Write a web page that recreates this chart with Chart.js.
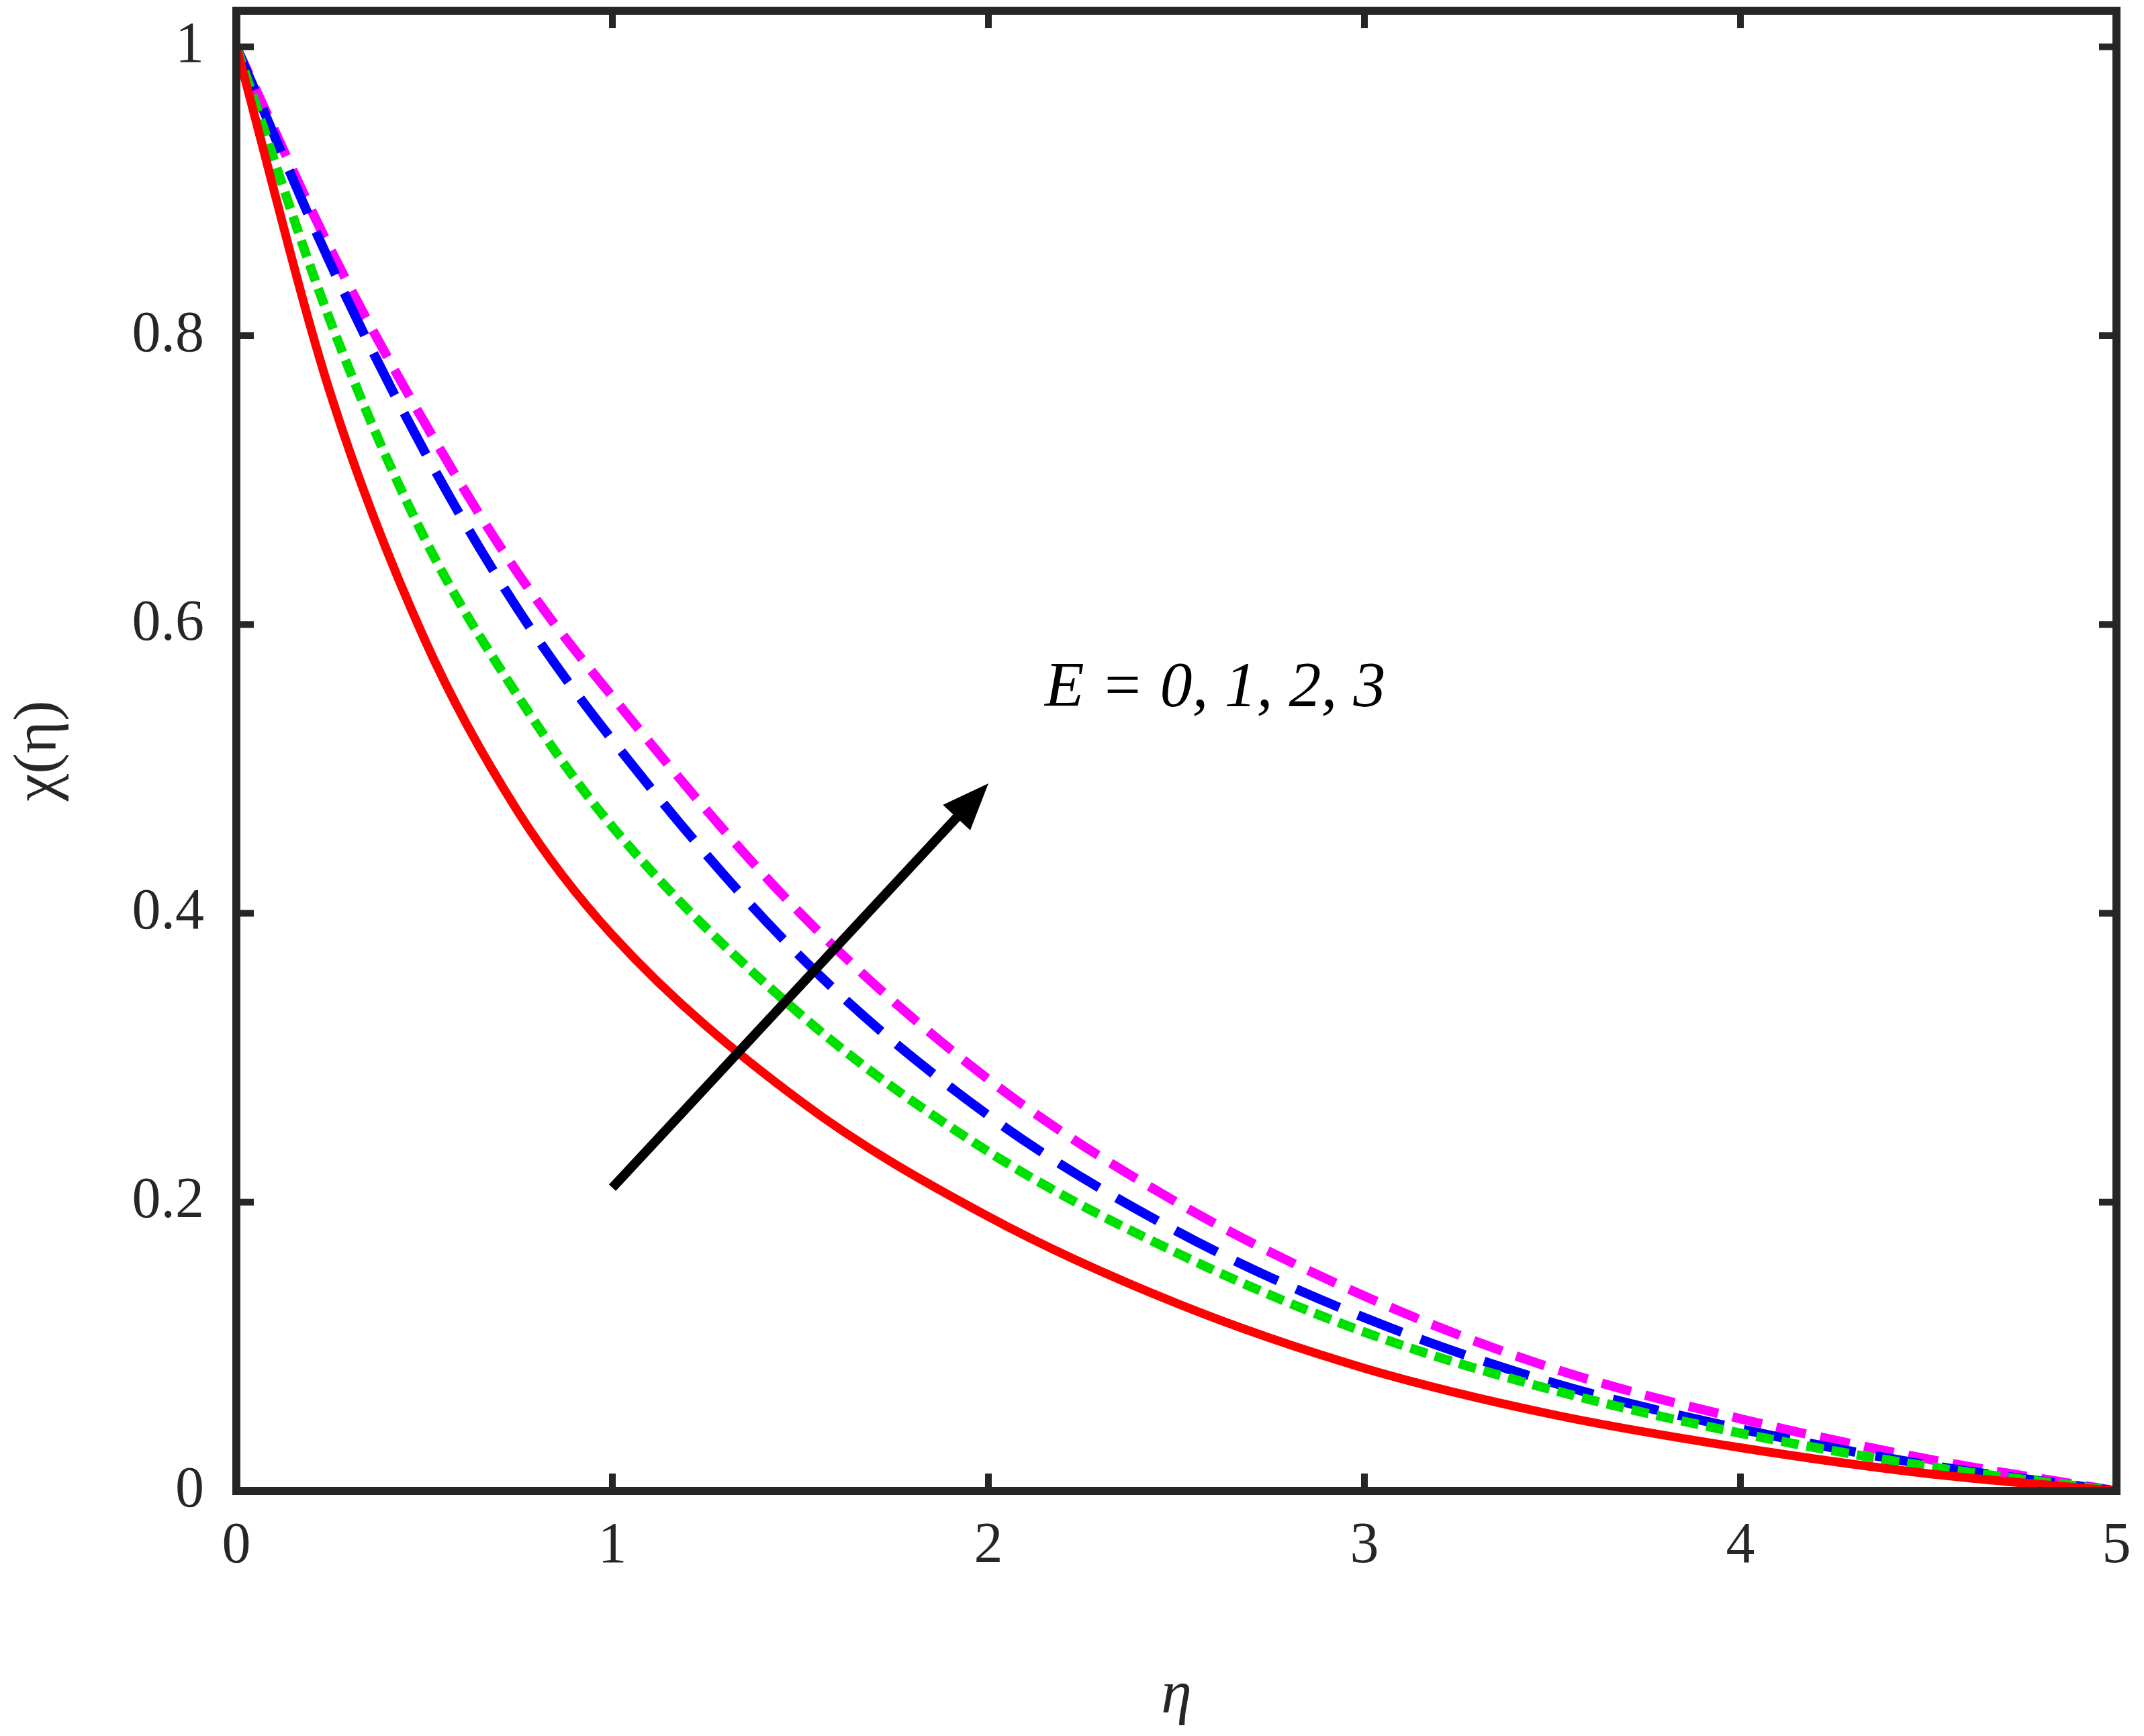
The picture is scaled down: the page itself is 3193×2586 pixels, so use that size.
<!DOCTYPE html>
<html>
<head>
<meta charset="UTF-8">
<style>
  html, body { margin: 0; padding: 0; background: #fff; }
  #wrap { width: 3193px; height: 2586px; }
</style>
</head>
<body>
<div id="wrap"><canvas id="chart"></canvas></div>
<script src="https://cdn.jsdelivr.net/npm/chart.js"></script>
<script>
  const etaValues = [0, 0.25, 0.5, 0.75, 1, 1.5, 2, 2.5, 3, 3.5, 4, 4.5, 5];
  const chiE0 = [1, 0.76, 0.59, 0.47, 0.385, 0.27, 0.19, 0.13, 0.085, 0.053, 0.03, 0.012, 0];
  const chiE1 = [1, 0.81, 0.66, 0.55, 0.46, 0.33, 0.235, 0.165, 0.11, 0.07, 0.04, 0.017, 0];
  const chiE2 = [1, 0.85, 0.72, 0.61, 0.52, 0.37, 0.26, 0.18, 0.12, 0.075, 0.043, 0.018, 0];
  const chiE3 = [1, 0.86, 0.74, 0.635, 0.55, 0.40, 0.285, 0.20, 0.135, 0.085, 0.05, 0.022, 0];
  const xTicks = [0, 1, 2, 3, 4, 5];
  const yTicks = [0, 0.2, 0.4, 0.6, 0.8, 1];
  const arrowFrom = [1, 0.21];
  const arrowTo = [2, 0.49];
  const note = 'E = 0, 1, 2, 3';
  const notePos = [2.15, 0.555];
  const serif = "'Liberation Serif', 'Times New Roman', serif";

  const pts = ys => etaValues.map((x, i) => ({ x: x, y: ys[i] }));

  // frame on all four sides, ticks pointing inward, arrow head and label
  const frame = {
    id: 'frame',
    afterDatasetsDraw(chart) {
      const { ctx, chartArea: a, scales: { x, y } } = chart;
      ctx.save();
      ctx.strokeStyle = '#262626';
      ctx.lineWidth = 12;
      ctx.strokeRect(a.left, a.top, a.right - a.left, a.bottom - a.top);
      ctx.lineWidth = 10;
      const t = 26;
      xTicks.forEach(v => {
        const px = x.getPixelForValue(v);
        ctx.beginPath();
        ctx.moveTo(px, a.bottom); ctx.lineTo(px, a.bottom - t);
        ctx.moveTo(px, a.top); ctx.lineTo(px, a.top + t);
        ctx.stroke();
      });
      yTicks.forEach(v => {
        const py = y.getPixelForValue(v);
        ctx.beginPath();
        ctx.moveTo(a.left, py); ctx.lineTo(a.left + t, py);
        ctx.moveTo(a.right, py); ctx.lineTo(a.right - t, py);
        ctx.stroke();
      });
      // arrow
      const x1 = x.getPixelForValue(arrowFrom[0]), y1 = y.getPixelForValue(arrowFrom[1]);
      const x2 = x.getPixelForValue(arrowTo[0]), y2 = y.getPixelForValue(arrowTo[1]);
      const ang = Math.atan2(y2 - y1, x2 - x1);
      ctx.strokeStyle = '#000';
      ctx.fillStyle = '#000';
      ctx.lineWidth = 14;
      ctx.beginPath();
      ctx.moveTo(x1, y1);
      ctx.lineTo(x2 - 40 * Math.cos(ang), y2 - 40 * Math.sin(ang));
      ctx.stroke();
      ctx.beginPath();
      ctx.moveTo(x2, y2);
      ctx.lineTo(x2 - 75 * Math.cos(ang - 0.38), y2 - 75 * Math.sin(ang - 0.38));
      ctx.lineTo(x2 - 75 * Math.cos(ang + 0.38), y2 - 75 * Math.sin(ang + 0.38));
      ctx.closePath();
      ctx.fill();
      ctx.font = "italic 96px " + serif;
      ctx.textAlign = 'left';
      ctx.textBaseline = 'middle';
      ctx.fillText(note, x.getPixelForValue(notePos[0]), y.getPixelForValue(notePos[1]));
      ctx.restore();
    }
  };

  const ctx = document.getElementById('chart').getContext('2d');
  new Chart(ctx, {
    type: 'line',
    data: {
      datasets: [
        { label: 'E = 0', data: pts(chiE0), borderColor: '#ff0000', borderWidth: 13 },
        { label: 'E = 1', data: pts(chiE1), borderColor: '#00e000', borderWidth: 14, borderDash: [26, 12] },
        { label: 'E = 2', data: pts(chiE2), borderColor: '#0000ff', borderWidth: 14, borderDash: [70, 30] },
        { label: 'E = 3', data: pts(chiE3), borderColor: '#ff00ff', borderWidth: 14, borderDash: [45, 22] }
      ]
    },
    options: {
      responsive: true,
      maintainAspectRatio: false,
      animation: false,
      devicePixelRatio: 1,
      elements: { point: { radius: 0 }, line: { tension: 0.4, cubicInterpolationMode: 'monotone' } },
      layout: { padding: { top: 16, right: 41 } },
      plugins: { legend: { display: false }, tooltip: { enabled: false } },
      scales: {
        x: {
          type: 'linear', min: 0, max: 5,
          afterFit: s => { s.height = 365; s.paddingRight = 0; },
          afterBuildTicks: s => { s.ticks = xTicks.map(v => ({ value: v })); },
          grid: { display: false },
          border: { display: false },
          ticks: { color: '#262626', padding: 24, font: { family: serif, size: 86 } },
          title: { display: true, text: 'η', color: '#262626', padding: { top: 0 }, font: { family: serif, size: 92, style: 'italic' } }
        },
        y: {
          type: 'linear', min: 0, max: 1.025,
          afterFit: s => { s.width = 352; s.paddingTop = 0; s.paddingBottom = 0; },
          afterBuildTicks: s => { s.ticks = yTicks.map(v => ({ value: v })); },
          grid: { display: false },
          border: { display: false },
          ticks: { color: '#262626', padding: 40, font: { family: serif, size: 86 }, callback: v => String(v) },
          title: { display: true, text: 'χ(η)', color: '#262626', padding: { bottom: 10 }, font: { family: serif, size: 92 } }
        }
      }
    },
    plugins: [frame]
  });
</script>
</body>
</html>
